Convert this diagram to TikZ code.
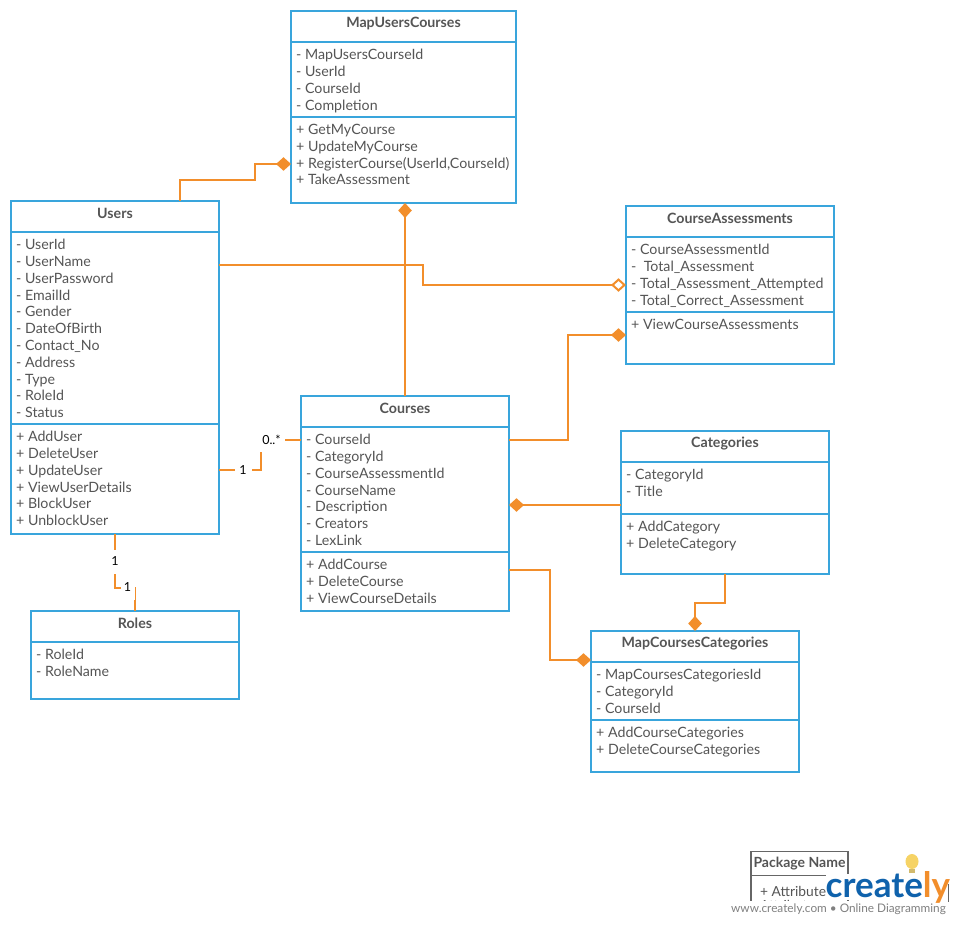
\documentclass[tikz,border=0pt]{standalone}
\usepackage{fontspec}
\setmainfont{Lato}
\usetikzlibrary{arrows.meta,positioning}
\definecolor{umlblue}{HTML}{39A5DC}
\definecolor{umlorange}{HTML}{F28E2B}
\definecolor{umltext}{HTML}{555555}
\definecolor{logoblue}{HTML}{0F62AC}
\definecolor{bulb}{HTML}{F6D365}
\tikzset{
  x=1pt,y=-1pt,
  classbox/.style={draw=umlblue,line width=2pt,fill=white,inner sep=0pt,outer sep=0pt,anchor=north west},
  divider/.style={draw=umlblue,line width=2pt},
  ctitle/.style={font=\fontsize{14.2}{16}\selectfont\bfseries,text=umltext,inner sep=0pt,anchor=center},
  ctext/.style={font=\fontsize{14.2}{16.8}\selectfont,text=umltext,inner sep=0pt,anchor=north west,align=left},
  rel/.style={draw=umlorange,line width=2pt},
  filleddia/.style={rel,{Diamond[length=15pt,width=13.5pt,fill=umlorange]}-},
  opendia/.style={rel,{Diamond[open,length=15pt,width=13.5pt,fill=white,line width=2pt]}-},
  mult/.style={font=\fontsize{12.5}{14}\selectfont,text=black,fill=white,inner sep=2pt},
}
% name, left, top, right, bottom, div1, title, attrs
\newcommand{\umlhead}[8]{%
  \pgfmathsetmacro{\umlw}{#4-#2}\pgfmathsetmacro{\umlh}{#5-#3}%
  \node[classbox,minimum width=\umlw pt,minimum height=\umlh pt] (#1) at (#2,#3) {};
  \node[ctitle] (#1t) at (#2/2+#4/2,#3+12.5) {#7};
  \draw[divider] (#2,#6) -- (#4,#6);
  \node[ctext] (#1a) at (#2+5,#6+7) {#8};
}
\newcommand{\umlops}[5]{% name,left,right,y,text
  \draw[divider] (#2,#4) -- (#3,#4);
  \node[ctext] (#1o) at (#2+5,#4+7) {#5};
}
\begin{document}
\begin{tikzpicture}
\useasboundingbox (0,0) rectangle (960,925);
\fill[white] (0,0) rectangle (960,925);

\umlhead{muc}{291}{11}{516}{203}{42}{MapUsersCourses}{- MapUsersCourseId\\- UserId\\- CourseId\\- Completion}
\umlops{muc}{291}{516}{117}{+ GetMyCourse\\+ UpdateMyCourse\\+ RegisterCourse(UserId,CourseId)\\+ TakeAssessment}

\umlhead{users}{11}{201}{219}{534}{232}{Users}{- UserId\\- UserName\\- UserPassword\\- EmailId\\- Gender\\- DateOfBirth\\- Contact\_No\\- Address\\- Type\\- RoleId\\- Status}
\umlops{users}{11}{219}{424}{+ AddUser\\+ DeleteUser\\+ UpdateUser\\+ ViewUserDetails\\+ BlockUser\\+ UnblockUser}

\umlhead{ca}{626}{206}{834}{364}{237}{CourseAssessments}{- CourseAssessmentId\\-~~Total\_Assessment\\- Total\_Assessment\_Attempted\\- Total\_Correct\_Assessment}
\umlops{ca}{626}{834}{312}{+ ViewCourseAssessments}

\umlhead{courses}{301}{396}{509}{611}{427}{Courses}{- CourseId\\- CategoryId\\- CourseAssessmentId\\- CourseName\\- Description\\- Creators\\- LexLink}
\umlops{courses}{301}{509}{552}{+ AddCourse\\+ DeleteCourse\\+ ViewCourseDetails}

\umlhead{cat}{621}{431}{829}{574}{462}{Categories}{- CategoryId\\- Title}
\umlops{cat}{621}{829}{514}{+ AddCategory\\+ DeleteCategory}

\umlhead{roles}{31}{611}{239}{699}{642}{Roles}{- RoleId\\- RoleName}

\umlhead{mcc}{591}{631}{799}{772}{662}{MapCoursesCategories}{- MapCoursesCategoriesId\\- CategoryId\\- CourseId}
\umlops{mcc}{591}{799}{720}{+ AddCourseCategories\\+ DeleteCourseCategories}

% connectors
\coordinate (j1) at (180,164);
\draw[filleddia] (muc.west |- j1) -- (255,164) -- (255,180) -- (180,180) -- (180,180 |- users.north);
\draw[filleddia] (405,203) -- (405,396);
\draw[opendia] (ca.west |- 0,285) -- (423,285) -- (423,265) -- (users.east |- 0,265);
\draw[filleddia] (ca.west |- 0,335) -- (568,335) -- (568,440) -- (courses.east |- 0,440);
\draw[filleddia] (courses.east |- 0,505) -- (cat.west |- 0,505);
\draw[filleddia] (mcc.west |- 0,660) -- (550,660) -- (550,570) -- (courses.east |- 0,570);
\draw[filleddia] (695,631) -- (695,603) -- (725,603) -- (725,574);

\draw[rel] (users.east |- 0,470) -- (261,470) -- (261,440) -- (courses.west |- 0,440);
\node[mult,minimum width=17pt,minimum height=16pt] (m1) at (243,470) {1};
\node[mult,minimum width=26pt,minimum height=24pt] (m2) at (271.5,440) {0..*};

\draw[rel] (115,534) -- (115,588) -- (135,588) -- (135,611);
\node[mult,minimum height=24pt,minimum width=14pt] (m3) at (115,561.5) {1};
\node[mult,minimum height=24pt,minimum width=14pt] (m4) at (127.5,587.5) {1};

% watermark
\draw[gray!80!black,line width=1.5pt,fill=white] (751,901) -- (751,851.5) -- (848,851.5) -- (848,901);
\draw[gray!80!black,line width=1.5pt] (751,875.5) -- (848,875.5);
\node[font=\fontsize{14}{16}\selectfont\bfseries,text=umltext,inner sep=0pt] (pkg) at (799.5,863.5) {Package Name};
\node[font=\fontsize{13.8}{16}\selectfont,text=umltext,inner sep=0pt,anchor=west] (attr1) at (760,891) {+ Attribute};
\node[font=\fontsize{13.8}{16}\selectfont,text=umltext,inner sep=0pt,anchor=west] (attr2) at (760,905) {Attribute};
\fill[white] (740,900.5) rectangle (955,925);
\fill[white] (826,874) rectangle (946,900);
\draw[gray!80!black,line width=1.5pt] (948.5,884) -- (948.5,902);
\fill[bulb] (912,861.5) ellipse (6.5pt and 7.5pt);
\fill[bulb!70!gray] (909,869) rectangle (915,873);
\node[font=\fontsize{35}{40}\selectfont\bfseries,inner sep=0pt,anchor=base west] (logo) at (825.5,897) {\textcolor{logoblue}{create}\textcolor{umlorange}{ly}};
\node[font=\fontsize{11.8}{14}\selectfont,text=gray,inner sep=0pt] (url) at (838.5,909) {www.creately.com • Online Diagramming};
\end{tikzpicture}
\end{document}
